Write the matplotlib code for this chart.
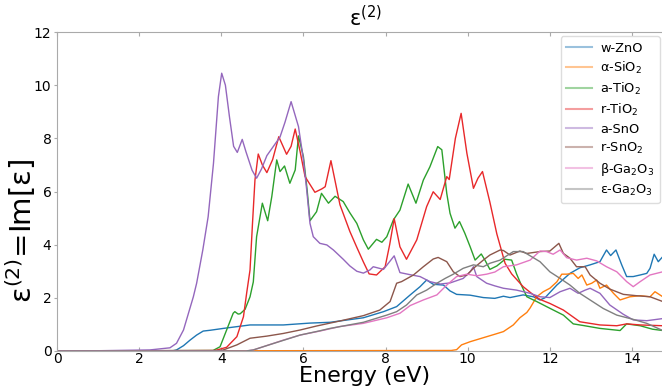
import matplotlib
matplotlib.use("Agg")
import matplotlib.pyplot as plt

# ---------------- data ----------------
labels = ["w-ZnO", "α-SiO$_2$", "a-TiO$_2$", "r-TiO$_2$", "a-SnO",
          "r-SnO$_2$", "β-Ga$_2$O$_3$", "ε-Ga$_2$O$_3$"]
colors = ["#1f77b4", "#ff7f0e", "#2ca02c", "#e8282a", "#9467bd",
          "#8c564b", "#e377c2", "#7f7f7f"]

zno_e = [0, 2.8, 2.91, 3.08, 3.24, 3.4, 3.56, 3.73, 4.05, 4.7, 5.51, 6.16, 6.65, 7.46, 7.95,
         8.27, 8.6, 8.84, 9.0, 9.16, 9.41, 9.57, 9.73, 10.06, 10.38, 10.66, 10.87, 11.03,
         11.35, 11.6, 11.76, 11.88, 12.17, 12.49, 12.73, 12.98, 13.22, 13.38, 13.48, 13.61,
         13.75, 13.87, 14.03, 14.2, 14.36, 14.44, 14.54, 14.64, 14.75]
zno_v = [0, 0.0, 0.04, 0.2, 0.41, 0.6, 0.75, 0.78, 0.85, 0.98, 0.98, 1.05, 1.08, 1.25, 1.48,
         1.67, 2.11, 2.42, 2.67, 2.51, 2.48, 2.26, 2.13, 2.1, 2.01, 1.98, 2.06, 2.01,
         2.11, 2.04, 1.92, 2.0, 2.48, 2.92, 3.13, 3.24, 3.36, 3.80, 3.59, 3.80,
         3.24, 2.80, 2.80, 2.86, 2.92, 3.11, 3.64, 3.36, 3.55]

sio2_e = [0, 9.6, 9.73, 9.85, 10.06, 10.38, 10.66, 10.87, 11.11, 11.27, 11.44, 11.52, 11.68,
          11.84, 12.0, 12.17, 12.29, 12.41, 12.57, 12.69, 12.78, 12.9, 13.02, 13.14, 13.22,
          13.38, 13.55, 13.71, 13.83, 13.95, 14.2, 14.44, 14.56, 14.75]
sio2_v = [0, 0.02, 0.05, 0.23, 0.35, 0.5, 0.63, 0.73, 0.98, 1.25, 1.45, 1.62, 2.04,
          2.23, 2.36, 2.6, 2.89, 2.89, 2.92, 2.73, 2.86, 2.48, 2.55, 2.67, 2.36,
          2.48, 2.17, 1.92, 1.98, 2.04, 2.08, 2.04, 2.23, 2.04]

atio2_e = [0, 3.8, 3.97, 4.13, 4.29, 4.33, 4.41, 4.46, 4.58, 4.7, 4.78, 4.86, 5.0, 5.13, 5.23,
           5.35, 5.43, 5.54, 5.67, 5.8, 5.88, 6.0, 6.09, 6.16, 6.32, 6.44, 6.61, 6.77, 6.97,
           7.13, 7.3, 7.46, 7.58, 7.78, 7.91, 8.03, 8.19, 8.35, 8.55, 8.74, 8.92, 9.08, 9.27,
           9.37, 9.49, 9.57, 9.69, 9.8, 9.93, 10.06, 10.18, 10.33, 10.42, 10.54, 10.71, 10.91,
           11.07, 11.19, 11.3, 11.44, 11.68, 11.92, 12.33, 12.57, 12.81, 13.22, 13.71, 13.87,
           14.2, 14.5, 14.75]
atio2_v = [0, 0.02, 0.16, 0.79, 1.42, 1.48, 1.39, 1.40, 1.57, 2.04, 2.6, 4.3, 5.56, 4.9, 5.81,
           7.19, 6.75, 6.96, 6.31, 6.81, 8.09, 7.31, 6.06, 4.9, 5.24, 5.93, 5.56, 5.82, 5.62,
           5.2, 4.8, 4.18, 3.83, 4.2, 4.09, 4.3, 4.93, 5.3, 6.28, 5.56, 6.43, 6.93, 7.69,
           7.57, 5.93, 5.18, 4.62, 4.87, 4.43, 3.92, 3.42, 3.65, 3.42, 3.07, 3.2, 3.45,
           3.42, 2.9, 2.5, 2.04, 1.86, 1.67, 1.35, 1.02, 0.96, 0.85, 0.77, 1.02,
           0.95, 0.82, 0.77]

rtio2_e = [0, 3.85, 4.13, 4.38, 4.54, 4.62, 4.7, 4.76, 4.82, 4.9, 5.0, 5.11, 5.25, 5.4, 5.59,
           5.7, 5.8, 5.92, 6.04, 6.28, 6.45, 6.53, 6.67, 6.89, 7.13, 7.3, 7.46, 7.6, 7.78, 7.99,
           8.1, 8.21, 8.35, 8.51, 8.76, 9.0, 9.16, 9.33, 9.49, 9.55, 9.7, 9.84, 9.98, 10.14,
           10.25, 10.36, 10.54, 10.71, 10.83, 10.91, 11.07, 11.35, 11.6, 11.76, 12.0, 12.33,
           12.73, 13.22, 13.63, 13.87, 14.2, 14.75]
rtio2_v = [0, 0.02, 0.14, 0.54, 1.29, 2.2, 3.05, 4.8, 6.43, 7.41, 7.0, 6.71, 7.2, 8.06, 7.40,
           7.7, 8.35, 7.5, 6.56, 5.97, 6.1, 6.18, 7.16, 5.5, 4.5, 3.9, 3.35, 2.9, 2.86, 3.17,
           4.0, 4.98, 3.92, 3.45, 4.18, 5.43, 5.99, 5.7, 6.56, 6.45, 8.0, 8.94, 7.44, 6.12,
           6.5, 6.75, 5.6, 4.4, 3.74, 3.3, 2.9, 2.42, 2.11, 1.94, 1.79, 1.54,
           1.10, 0.98, 0.95, 1.02, 0.98, 0.95]

sno_e = [0, 1.0, 2.26, 2.75, 2.91, 3.08, 3.32, 3.4, 3.55, 3.68, 3.81, 3.93, 4.01, 4.1, 4.2,
         4.3, 4.39, 4.51, 4.6, 4.75, 4.86, 4.98, 5.11, 5.43, 5.55, 5.7, 5.88, 6.0, 6.08, 6.16,
         6.24, 6.4, 6.57, 6.73, 6.97, 7.13, 7.3, 7.46, 7.62, 7.7, 7.95, 8.21, 8.35, 8.6, 8.84,
         9.08, 9.33, 9.57, 9.89, 10.06, 10.14, 10.22, 10.46, 10.66, 10.87, 11.19, 11.52,
         11.76, 12.0, 12.25, 12.49, 12.69, 12.86, 12.98, 13.22, 13.46, 13.79, 14.03, 14.36,
         14.75]
sno_v = [0, 0.01, 0.04, 0.12, 0.29, 0.79, 2.04, 2.55, 3.8, 5.05, 7.06, 9.57, 10.45, 10.0, 8.8,
         7.7, 7.47, 7.96, 7.5, 6.8, 6.5, 6.85, 7.35, 8.05, 8.6, 9.38, 8.44, 7.2, 6.06, 4.8,
         4.3, 4.05, 3.99, 3.8, 3.45, 3.2, 3.0, 2.93, 3.05, 3.17, 3.07, 3.58, 2.95, 2.87, 2.8,
         2.61, 2.52, 2.56, 2.73, 2.98, 3.17, 2.8, 2.55, 2.45, 2.36, 2.29, 2.17,
         2.04, 2.01, 2.23, 2.36, 2.17, 2.29, 2.36, 2.17, 1.73, 1.38, 1.17, 1.14,
         1.22]

sno2_e = [0, 3.9, 4.05, 4.38, 4.7, 5.11, 5.51, 5.92, 6.32, 6.89, 7.46, 7.86, 8.11, 8.27, 8.39,
          8.68, 8.92, 9.16, 9.28, 9.49, 9.65, 9.81, 9.98, 10.14, 10.38, 10.54, 10.79, 10.87,
          11.03, 11.27, 11.44, 11.76, 12.0, 12.22, 12.33, 12.49, 12.65, 12.86, 12.98, 13.22,
          13.46, 13.79, 14.11, 14.44, 14.75]
sno2_v = [0, 0.0, 0.04, 0.23, 0.48, 0.56, 0.66, 0.79, 0.94, 1.13, 1.33, 1.54, 1.86, 2.55, 2.61,
          2.86, 3.17, 3.46, 3.52, 3.36, 2.98, 2.80, 2.86, 3.11, 3.42, 3.61, 3.80, 3.78,
          3.61, 3.76, 3.67, 3.74, 3.76, 4.05, 3.67, 3.49, 3.17, 3.17, 2.86, 2.55,
          2.33, 2.13, 2.08, 2.04, 1.86]

bga_e = [0, 4.6, 4.78, 5.1, 5.51, 5.92, 6.4, 6.89, 7.46, 8.03, 8.35, 8.6, 8.92, 9.25, 9.49,
         9.73, 9.98, 10.22, 10.46, 10.66, 10.87, 11.19, 11.52, 11.76, 11.92, 12.08, 12.25,
         12.41, 12.65, 12.9, 13.14, 13.38, 13.63, 13.87, 14.03, 14.2, 14.44, 14.75]
bga_v = [0, 0.0, 0.04, 0.2, 0.41, 0.6, 0.75, 0.92, 1.04, 1.25, 1.42, 1.71, 1.92, 2.11, 2.48,
         2.80, 2.89, 2.83, 2.89, 2.97, 3.17, 3.24, 3.42, 3.76, 3.74, 3.64, 3.80,
         3.51, 3.42, 3.49, 3.39, 3.17, 2.98, 2.61, 2.42, 2.61, 2.86, 2.98]

ega_e = [0, 4.6, 4.78, 5.1, 5.51, 5.92, 6.4, 6.65, 7.46, 8.03, 8.27, 8.51, 8.76, 9.0, 9.25,
         9.45, 9.65, 9.89, 10.14, 10.38, 10.54, 10.79, 11.11, 11.35, 11.76, 12.0, 12.25,
         12.49, 12.73, 12.98, 13.3, 13.63, 14.03, 14.36, 14.75]
ega_v = [0, 0.0, 0.04, 0.2, 0.40, 0.6, 0.76, 0.85, 1.08, 1.35, 1.48, 1.73, 2.11, 2.29, 2.55,
         2.73, 2.89, 3.11, 3.24, 3.17, 3.30, 3.42, 3.74, 3.74, 3.36, 2.98, 2.73,
         2.48, 2.17, 1.92, 1.6, 1.35, 1.19, 1.04, 0.77]

xticks = [0, 2, 4, 6, 8, 10, 12, 14]
yticks = [0, 2, 4, 6, 8, 10, 12]

series = [(zno_e, zno_v), (sio2_e, sio2_v), (atio2_e, atio2_v), (rtio2_e, rtio2_v),
          (sno_e, sno_v), (sno2_e, sno2_v), (bga_e, bga_v), (ega_e, ega_v)]

# ---------------- figure ----------------
W, H = 662, 392
fig = plt.figure(figsize=(W / 100, H / 100), dpi=100)
x0, x1 = 57, 57 + 15 * 41.07
ax = fig.add_axes([x0 / W, 41 / H, (x1 - x0) / W, 319 / H])

for (e, v), c, lab in zip(series, colors, labels):
    ax.plot(e, v, color=c, lw=1.0, label=lab)

ax.set_xlim(0, 15)
ax.set_ylim(0, 12)
ax.set_xticks(xticks)
ax.set_yticks(yticks)
ax.tick_params(axis="x", direction="in", top=True, length=3, color="#aaaaaa",
               labelsize=10, pad=1)
ax.tick_params(axis="y", direction="out", length=2, color="#aaaaaa", labelsize=10, pad=2)
for s in ax.spines.values():
    s.set_color("#aaaaaa")

ax.set_title("ε$^{(2)}$", fontsize=15, pad=4)
ax.set_xlabel("Energy (eV)", fontsize=16, labelpad=0)
ax.set_ylabel("ε$^{(2)}$=Im[ε]", fontsize=21)
ax.yaxis.set_label_coords(-19 / (x1 - x0), 0.375)

leg = ax.legend(loc="upper right", bbox_to_anchor=(660 / W, 1 - 36 / H),
                bbox_transform=fig.transFigure, borderaxespad=0, fontsize=9.3,
                labelspacing=0.38, handlelength=2.0, handletextpad=0.6,
                borderpad=0.45, frameon=True, fancybox=True, framealpha=1)
leg.get_frame().set_edgecolor("#dddddd")
for h in leg.get_lines():
    h.set_alpha(0.45)
    h.set_linewidth(1.5)

fig.savefig("out.png", dpi=100)
